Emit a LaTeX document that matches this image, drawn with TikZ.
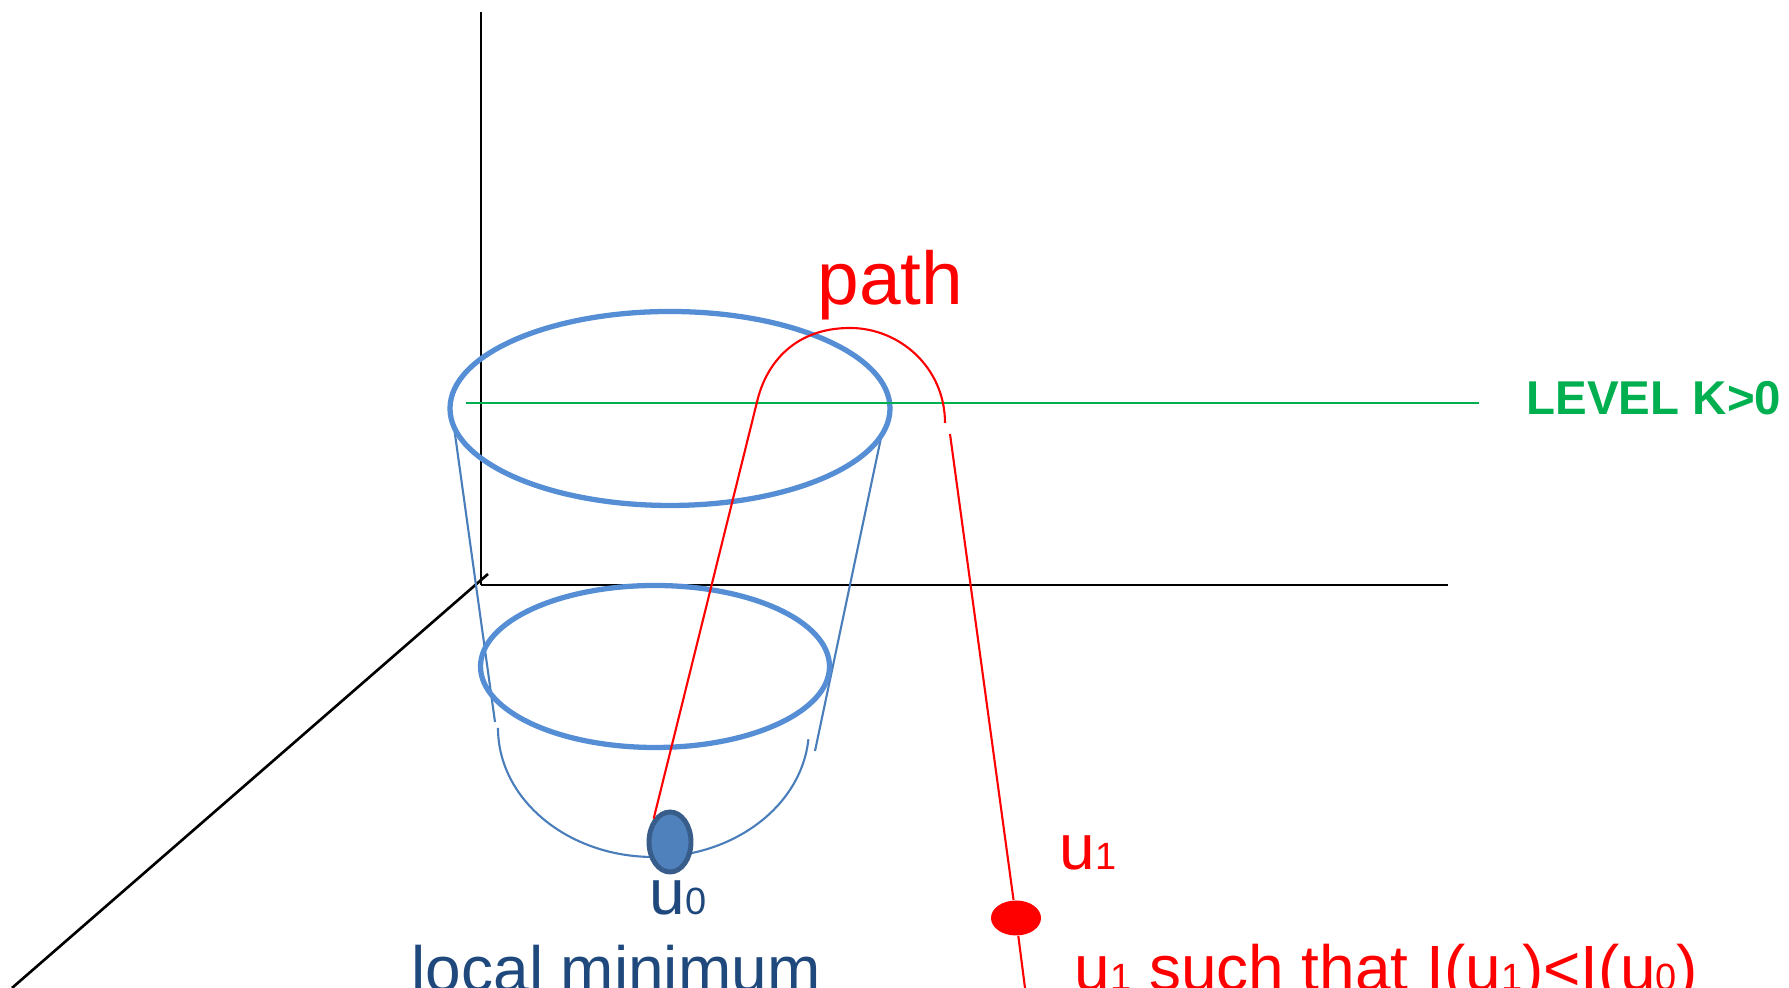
\documentclass[tikz,border=0pt]{standalone}
\usepackage{fontspec}
\setmainfont{Liberation Sans}
\usetikzlibrary{shapes.geometric}
\definecolor{rimblue}{HTML}{558ED5}
\definecolor{sideblue}{HTML}{4A7EBB}
\definecolor{ballblue}{HTML}{4F81BD}
\definecolor{balledge}{HTML}{385D8A}
\definecolor{navy}{HTML}{1F497D}
\definecolor{levelgreen}{HTML}{00B050}
\newcommand{\dn}[1]{{\fontsize{10.8}{12}\selectfont #1}}

\begin{document}
\begin{tikzpicture}[every node/.style={font=\fontsize{18.2}{20}\selectfont, inner sep=0pt},
	axis/.style={black, line width=0.75pt},
	rim/.style={rimblue, line width=1.5pt},
	side/.style={sideblue, line width=0.6pt},
	curve/.style={red, line width=0.6pt}]
	\useasboundingbox (0,0) rectangle (17.89,9.88);
	\coordinate (O) at (4.81,4.03);
	\draw[axis] (O) -- (4.81,9.76);
	\draw[axis] (O) -- (14.48,4.03);
	\draw[axis] (4.88,4.14) -- (0.12,0);
	\draw[side] (4.54,5.61) -- (4.95,2.66);
	\draw[side] (8.82,5.55) -- (8.15,2.37);
	\draw[side] (4.98,2.60) arc[start angle=180, end angle=355, x radius=1.555, y radius=1.29];
	\draw[rim] (6.70,5.795) ellipse (2.20 and 0.97);
	\draw[rim] (6.55,3.215) ellipse (1.745 and 0.81);
	\draw[levelgreen, line width=0.65pt] (4.66,5.85) -- (14.79,5.85);
	\node[anchor=base west, font=\fontsize{13.5}{16}\selectfont\bfseries, text=levelgreen] (level) at (15.26,5.73) {LEVEL K>0};
	\node[ellipse, draw=balledge, fill=ballblue, line width=1.4pt, minimum width=0.42cm, minimum height=0.60cm] (u0) at (6.70,1.46) {};
	\node[ellipse, fill=red, minimum width=0.50cm, minimum height=0.35cm] (u1) at (10.16,0.70) {};
	\draw[curve] (u0.125) -- (7.57,5.86) .. controls (7.66,6.25) and (7.95,6.60) .. (8.50,6.60) .. controls (9.00,6.60) and (9.45,6.20) .. (9.45,5.65);
	\draw[curve] (9.50,5.54) -- (u1) -- (10.25,0);
	\node[anchor=base west, text=red, font=\fontsize{21.3}{24}\selectfont] (pathlabel) at (8.17,6.83) {path};
	\node[anchor=base west, text=navy] (u0label) at (6.49,0.73) {u\dn{0}};
	\node[anchor=base west, text=navy] (minlabel) at (4.11,-0.04) {local minimum};
	\node[anchor=base west, text=red] (u1label) at (10.59,1.18) {u\dn{1}};
	\node[anchor=base west, text=red] (claim) at (10.74,-0.025) {u\dn{1} such that I(u\dn{1})<I(u\dn{0})};
\end{tikzpicture}
\end{document}
